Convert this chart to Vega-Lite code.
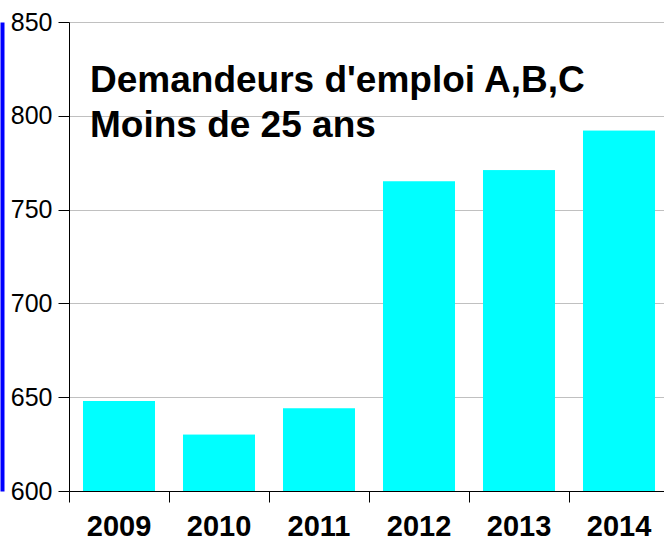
{
  "$schema": "https://vega.github.io/schema/vega-lite/v6.json",
  "autosize": {"type": "none"},
  "padding": {"left": 69, "top": 22, "right": 0, "bottom": 49},
  "width": 600,
  "height": 469,
  "background": "white",
  "title": {
    "text": ["Demandeurs d'emploi A,B,C", "Moins de 25 ans"],
    "anchor": "start",
    "frame": "group",
    "orient": "top",
    "baseline": "alphabetic",
    "offset": -164,
    "dx": 21,
    "font": "Liberation Sans",
    "fontSize": 37,
    "fontWeight": "bold",
    "color": "black",
    "lineHeight": 45
  },
  "data": {
    "values": [
      {"annee": "2009", "valeur": 648},
      {"annee": "2010", "valeur": 630},
      {"annee": "2011", "valeur": 644},
      {"annee": "2012", "valeur": 765},
      {"annee": "2013", "valeur": 771},
      {"annee": "2014", "valeur": 792}
    ]
  },
  "encoding": {
    "x": {
      "field": "annee",
      "type": "nominal",
      "scale": {"paddingInner": 0.28, "paddingOuter": 0.14},
      "axis": {
        "title": null,
        "bandPosition": -0.1944,
        "labelAngle": 0,
        "labelFont": "Liberation Sans",
        "labelFontSize": 29,
        "labelFontWeight": "bold",
        "labelColor": "black",
        "labelPadding": 10,
        "tickSize": 11,
        "tickColor": "black",
        "tickWidth": 1,
        "domainColor": "black",
        "domainWidth": 1,
        "grid": false
      }
    }
  },
  "layer": [
    {
      "mark": {"type": "bar", "color": "#00ffff", "clip": true},
      "encoding": {
        "y": {
          "field": "valeur",
          "type": "quantitative",
          "scale": {"domain": [600, 850], "nice": false, "zero": false},
          "axis": {
            "title": null,
            "values": [600, 650, 700, 750, 800, 850],
            "labelFont": "Liberation Sans",
            "labelFontSize": 25,
            "labelColor": "black",
            "labelPadding": 6,
            "tickSize": 11,
            "tickColor": "black",
            "domainColor": "black",
            "grid": true,
            "gridColor": "#c0c0c0",
            "gridWidth": 1
          }
        }
      }
    },
    {
      "mark": {"type": "bar", "color": "#00ffff", "clip": true},
      "encoding": {
        "y": {
          "field": "valeur",
          "type": "quantitative",
          "scale": {"domain": [600, 850], "nice": false, "zero": false},
          "axis": {
            "title": null,
            "orient": "left",
            "offset": 67,
            "labels": false,
            "ticks": false,
            "grid": false,
            "domainColor": "#0000ff",
            "domainWidth": 4
          }
        }
      }
    }
  ],
  "resolve": {"axis": {"y": "independent"}},
  "config": {"view": {"stroke": null}}
}
